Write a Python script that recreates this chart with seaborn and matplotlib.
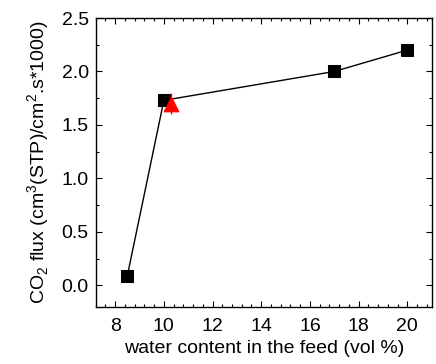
import matplotlib
matplotlib.use("Agg")
import matplotlib.pyplot as plt
import seaborn as sns
import pandas as pd
from matplotlib.ticker import AutoMinorLocator, MultipleLocator

water = [8.5, 10, 17, 20]
flux = [0.09, 1.73, 2.0, 2.2]
tri_water = [10.3]
tri_flux = [1.70]
tri_err = [0.10]

sns.set_theme(style="ticks")
plt.rcParams['font.family'] = ['Liberation Sans', 'DejaVu Sans']
plt.rcParams['mathtext.fontset'] = 'custom'
plt.rcParams['mathtext.rm'] = 'Liberation Sans'
plt.rcParams['text.color'] = 'black'
plt.rcParams['axes.labelcolor'] = 'black'
plt.rcParams['xtick.color'] = 'black'
plt.rcParams['ytick.color'] = 'black'

fig = plt.figure(figsize=(4.36, 3.64), dpi=100)
ax = fig.add_axes([0.2195, 0.1574, 0.990 - 0.2195, 0.9505 - 0.1574])

df = pd.DataFrame({"water": water, "flux": flux})
sns.lineplot(data=df, x="water", y="flux", ax=ax, color="black", lw=1.0,
             marker="s", markersize=8, markeredgecolor="black", markerfacecolor="black")
ax.errorbar(tri_water, tri_flux, yerr=tri_err, fmt="none", ecolor="red", elinewidth=1.0, capsize=0)
sns.scatterplot(x=tri_water, y=tri_flux, ax=ax, marker="^", s=110, color="red",
                edgecolor="red", zorder=5)

ax.set_xlim(7.2, 21.0)
ax.set_ylim(-0.2, 2.5)
ax.xaxis.set_major_locator(MultipleLocator(2))
ax.yaxis.set_major_locator(MultipleLocator(0.5))
ax.xaxis.set_minor_locator(AutoMinorLocator(5))
ax.yaxis.set_minor_locator(AutoMinorLocator(2))
ax.tick_params(which="both", direction="in", top=True, right=True, labelsize=14,
               color="black", labelcolor="black", width=0.8)
ax.tick_params(which="major", length=4.5)
ax.tick_params(axis="x", which="major", pad=8)
ax.tick_params(axis="y", which="major", pad=5)
ax.tick_params(which="minor", length=2.5)
for s in ax.spines.values():
    s.set_color("black")
    s.set_linewidth(1.0)

ax.set_xlabel("water content in the feed (vol %)", fontsize=14, labelpad=4, color="black")
ax.set_ylabel(r"CO$_2$ flux (cm$^3$(STP)/cm$^2$.s*1000)", fontsize=14, labelpad=7, color="black")

fig.savefig("out.png", dpi=100)
